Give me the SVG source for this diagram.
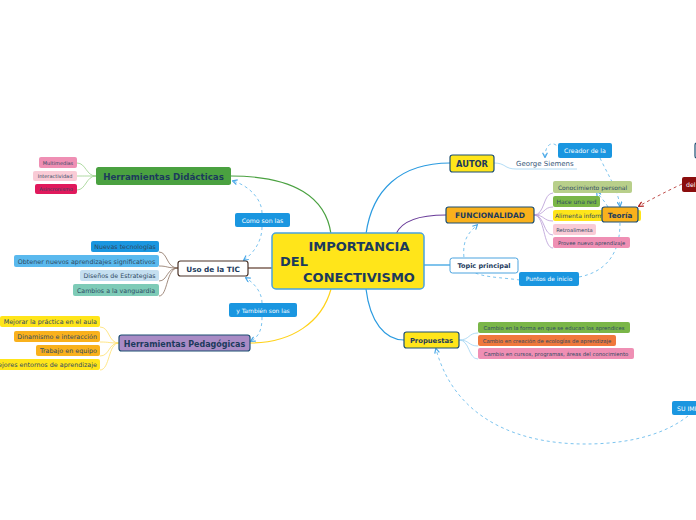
<svg xmlns="http://www.w3.org/2000/svg" width="696" height="520" viewBox="0 0 696 520">
<style>
text{font-family:"DejaVu Sans","Verdana",sans-serif}
.mt{font-weight:bold;fill:#1c3a5c;text-anchor:middle}
.lt{fill:#2f4a63;text-anchor:middle}
.wt{fill:#ffffff;text-anchor:middle}
.dash{fill:none;stroke:#7cc4ef;stroke-width:1;stroke-dasharray:3,3}
.c{fill:none;stroke-width:1.2}
.leaf{fill:none;stroke-width:0.8}
</style>
<defs>
<marker id="ab" viewBox="0 0 10 10" refX="8" refY="5" markerWidth="6" markerHeight="6" orient="auto"><path d="M1,1 L9,5 L1,9" fill="none" stroke="#4aa8e8" stroke-width="2"/></marker>
<marker id="ar" viewBox="0 0 10 10" refX="8" refY="5" markerWidth="6" markerHeight="6" orient="auto"><path d="M1,1 L9,5 L1,9" fill="none" stroke="#b02020" stroke-width="2"/></marker>
<clipPath id="clipAlimenta"><rect x="553" y="205" width="49" height="20"/></clipPath>
</defs>
<rect width="696" height="520" fill="#ffffff"/>

<g id="connectors">
<path class="c" stroke="#4aa140" d="M331,234 C326,198 295,176 231,176"/>
<path class="c" stroke="#2b9be0" d="M366,234 C372,190 400,163 450,163"/>
<path class="c" stroke="#6a3d9a" d="M396,234 C402,220 420,215 446,215"/>
<path class="c" stroke="#2b9be0" d="M424,265 L450,265"/>
<path class="c" stroke="#2b9be0" d="M366,289 C370,322 385,340 404,340"/>
<path class="c" stroke="#ffd21a" d="M331,289 C322,322 292,343 250,343"/>
<path class="c" stroke="#5d3a2a" stroke-width="1.8" d="M272,268 L248,268"/>
<path class="leaf" stroke="#9bd08a" d="M96,176 C86,176 86,163 77,163"/>
<path class="leaf" stroke="#9bd08a" d="M96,176 C86,176 86,176 77,176"/>
<path class="leaf" stroke="#9bd08a" d="M96,176 C86,176 86,190 77,190"/>
<path class="leaf" stroke="#8a7060" d="M178,268 C166,268 168,252 159,252"/>
<path class="leaf" stroke="#8a7060" d="M178,268 C166,268 168,266 159,266"/>
<path class="leaf" stroke="#8a7060" d="M178,268 C166,268 168,281 159,281"/>
<path class="leaf" stroke="#8a7060" d="M178,268 C166,268 168,296 159,296"/>
<path class="leaf" stroke="#ffe06a" d="M119,343 C108,343 110,327 100,327"/>
<path class="leaf" stroke="#ffe06a" d="M119,343 C108,343 110,342 100,342"/>
<path class="leaf" stroke="#ffe06a" d="M119,343 C108,343 110,356 100,356"/>
<path class="leaf" stroke="#ffe06a" d="M119,343 C108,343 110,370 100,370"/>
<path class="leaf" stroke="#9fd3f2" d="M494,163 C506,163 504,169 516,169 L577,169"/>
<path class="leaf" stroke="#b79ad6" d="M534,215 C545,215 543,193 553,193"/>
<path class="leaf" stroke="#b79ad6" d="M534,215 C545,215 543,207 553,207"/>
<path class="leaf" stroke="#b79ad6" d="M534,215 C545,215 543,221 553,221"/>
<path class="leaf" stroke="#b79ad6" d="M534,215 C545,215 543,235 553,235"/>
<path class="leaf" stroke="#b79ad6" d="M534,215 C545,215 543,248 553,248"/>
<path class="leaf" stroke="#9fd3f2" d="M459,340 C470,340 468,333 478,333"/>
<path class="leaf" stroke="#9fd3f2" d="M459,340 C470,340 468,346 478,346"/>
<path class="leaf" stroke="#9fd3f2" d="M459,340 C470,340 468,359 478,359"/>
<path class="dash" d="M262,213 C262,200 250,186 233,181" marker-end="url(#ab)"/>
<path class="dash" d="M262,227 C262,240 255,252 244,260" marker-end="url(#ab)"/>
<path class="dash" d="M262,303 C262,292 254,283 246,278" marker-end="url(#ab)"/>
<path class="dash" d="M262,317 C262,328 260,336 251,341" marker-end="url(#ab)"/>
<path class="dash" d="M560,150 C555,140 545,142 545,157" marker-end="url(#ab)"/>
<path class="dash" d="M600,158 C608,175 618,190 620,206" marker-end="url(#ab)"/>
<path class="dash" d="M608,207 C604,200 600,197 597,192" marker-end="url(#ab)"/>
<path class="dash" d="M682,184 C665,192 652,199 639,206" style="stroke:#c0504d" marker-end="url(#ar)"/>
<path class="dash" d="M520,280 C490,276 466,278 464,258 C462,238 470,232 477,225" marker-end="url(#ab)"/>
<path class="dash" d="M579,277 C605,272 620,255 620,223"/>
<path class="dash" d="M688,416 C660,438 620,444 585,444 C520,444 455,420 436,349" marker-end="url(#ab)"/>
</g>

<g id="central">
<rect x="272" y="233" width="152" height="56" rx="4" fill="#ffe51a" stroke="#4aa3df" stroke-width="1.5"/>
<text x="359" y="251" font-size="13" font-weight="bold" fill="#1c3a5c" text-anchor="middle">IMPORTANCIA</text>
<text x="280" y="266" font-size="13" font-weight="bold" fill="#1c3a5c">DEL</text>
<text x="359" y="282" font-size="13" font-weight="bold" fill="#1c3a5c" text-anchor="middle">CONECTIVISMO</text>
</g>

<g id="herramientas-didacticas">
<rect x="96" y="167" width="135" height="18" rx="2.5" fill="#4aa140"/>
<text class="mt" x="163.5" y="179.5" font-size="8.7">Herramientas Didácticas</text>
</g>
<g id="multimedias"><rect x="39" y="157" width="38" height="11" rx="2" fill="#ef8fb4"/><text class="lt" x="58" y="164.8" font-size="5">Multimedias</text></g>
<g id="interactividad"><rect x="33" y="171" width="44" height="10" rx="2" fill="#f9cbd6"/><text class="lt" x="55" y="178.2" font-size="5">Interactividad</text></g>
<g id="asincronismo"><rect x="35" y="184" width="42" height="10" rx="2" fill="#e0195c"/><text class="lt" x="56" y="191.2" font-size="5">Asincronismo</text></g>

<g id="uso-tic">
<rect x="178" y="261" width="70" height="15" rx="2.5" fill="#ffffff" stroke="#4a3328" stroke-width="1.2"/>
<text class="mt" x="213" y="271.5" font-size="7.3">Uso de la TIC</text>
</g>
<g id="nuevas"><rect x="91" y="241" width="68" height="11" rx="2" fill="#1a96e0"/><text class="lt" x="125" y="249" font-size="6.3">Nuevas tecnologías</text></g>
<g id="obtener"><rect x="14" y="255" width="145" height="12" rx="2" fill="#5ab9ee"/><text class="lt" x="86.5" y="263.5" font-size="6.4">Obtener nuevos aprendizajes significativos</text></g>
<g id="disenos"><rect x="80" y="270" width="79" height="11" rx="2" fill="#c5dff0"/><text class="lt" x="119.5" y="278" font-size="6.3">Diseños de Estrategias</text></g>
<g id="cambios"><rect x="73" y="284" width="86" height="12" rx="2" fill="#7ecbb7"/><text class="lt" x="116" y="292.5" font-size="6.3">Cambios a la vanguardia</text></g>

<g id="herramientas-pedagogicas">
<rect x="119" y="335" width="131" height="16" rx="2.5" fill="#a98bc5" stroke="#1d4f73" stroke-width="1.2"/>
<text class="mt" x="184.5" y="346.5" font-size="8">Herramientas Pedagógicas</text>
</g>
<g id="mejorar"><rect x="0" y="316" width="100" height="11" rx="2" fill="#ffe51a"/><text x="97" y="324" font-size="6.4" fill="#2f4a63" text-anchor="end">Mejorar la práctica en el aula</text></g>
<g id="dinamismo"><rect x="14" y="331" width="86" height="11" rx="2" fill="#f9b11c"/><text x="97" y="339" font-size="6.4" fill="#2f4a63" text-anchor="end">Dinamismo e interacción</text></g>
<g id="trabajo"><rect x="36" y="345" width="64" height="11" rx="2" fill="#f9b11c"/><text x="97" y="353" font-size="6.4" fill="#2f4a63" text-anchor="end">Trabajo en equipo</text></g>
<g id="mejores"><rect x="-10" y="359" width="110" height="11" rx="2" fill="#ffe51a"/><text x="97" y="367" font-size="6.4" fill="#2f4a63" text-anchor="end">Mejores entornos de aprendizaje</text></g>

<g id="como-son"><rect x="235" y="213" width="55" height="14" rx="2" fill="#1a96e0"/><text class="wt" x="262.5" y="222.5" font-size="6.2">Como son las</text></g>
<g id="tambien"><rect x="229" y="303" width="68" height="14" rx="2" fill="#1a96e0"/><text class="wt" x="263" y="312.5" font-size="6">y También son las</text></g>

<g id="autor">
<rect x="450" y="155" width="44" height="17" rx="2.5" fill="#ffe51a" stroke="#1d4f73" stroke-width="1.2"/>
<text class="mt" x="472" y="166.8" font-size="8.3">AUTOR</text>
</g>
<g id="george"><text x="516" y="166" font-size="7" fill="#3b5a7a">George Siemens</text></g>
<g id="creador"><rect x="558" y="143" width="54" height="15" rx="2" fill="#1a96e0"/><text class="wt" x="585" y="152.8" font-size="6.2">Creador de la</text></g>

<g id="funcionalidad">
<rect x="446" y="207" width="88" height="16" rx="2.5" fill="#f9b11c" stroke="#1d4f73" stroke-width="1.2"/>
<text class="mt" x="490" y="218.3" font-size="7.5">FUNCIONALIDAD</text>
</g>
<g id="conocimiento"><rect x="553" y="181" width="79" height="12" rx="2" fill="#b8cf8a"/><text class="lt" x="592.5" y="189.5" font-size="6">Conocimiento personal</text></g>
<g id="hace-red"><rect x="553" y="196" width="47" height="11" rx="2" fill="#7ab648"/><text class="lt" x="576.5" y="204" font-size="6">Hace una red</text></g>
<g id="alimenta"><rect x="553" y="210" width="88" height="11" rx="2" fill="#ffe51a"/><text x="555" y="218" font-size="6" fill="#2f4a63" clip-path="url(#clipAlimenta)">Alimenta información</text></g>
<g id="retroalimenta"><rect x="553" y="224" width="43" height="11" rx="2" fill="#f9cbd6"/><text class="lt" x="574.5" y="231.6" font-size="5.2">Retroalimenta</text></g>
<g id="provee"><rect x="553" y="237" width="77" height="11" rx="2" fill="#ef8fb4"/><text class="lt" x="591.5" y="244.6" font-size="5.2">Provee nuevo aprendizaje</text></g>

<g id="teoria">
<rect x="602" y="207" width="36" height="15" rx="2.5" fill="#f9b11c" stroke="#1d4f73" stroke-width="1.2"/>
<text class="mt" x="620" y="217.5" font-size="7.2">Teoría</text>
</g>
<g id="del"><rect x="682" y="177" width="30" height="15" rx="2" fill="#8b0d0d"/><text x="686" y="186.8" font-size="6.2" fill="#ffffff">del</text></g>
<g id="edge-node"><rect x="695" y="143" width="30" height="15" rx="2" fill="#ffffff" stroke="#1d4f73" stroke-width="1.2"/></g>

<g id="topic">
<rect x="450" y="258" width="68" height="15" rx="2.5" fill="#ffffff" stroke="#4aa3df" stroke-width="1"/>
<text class="mt" x="484" y="268.3" font-size="6.5">Topic principal</text>
</g>
<g id="puntos"><rect x="519" y="272" width="60" height="14" rx="2" fill="#1a96e0"/><text class="wt" x="549" y="281.3" font-size="5.9">Puntos de inicio</text></g>

<g id="propuestas">
<rect x="404" y="332" width="55" height="16" rx="2.5" fill="#ffe51a" stroke="#1d4f73" stroke-width="1.2"/>
<text class="mt" x="431.5" y="343.3" font-size="6.8">Propuestas</text>
</g>
<g id="cambio-forma"><rect x="478" y="322" width="152" height="11" rx="2" fill="#7ab648"/><text class="lt" x="554" y="329.5" font-size="5.3">Cambio en la forma en que se educan los aprendices</text></g>
<g id="cambio-ecologias"><rect x="478" y="335" width="138" height="11" rx="2" fill="#f0783c"/><text class="lt" x="547" y="342.5" font-size="5.3">Cambio en creación de ecologías de aprendizaje</text></g>
<g id="cambio-cursos"><rect x="478" y="348" width="156" height="11" rx="2" fill="#ef8fb4"/><text class="lt" x="556" y="355.5" font-size="5.3">Cambio en cursos, programas, áreas del conocimiento</text></g>

<g id="su-im"><rect x="672" y="401" width="40" height="14" rx="2" fill="#1a96e0"/><text x="677" y="410.5" font-size="6.2" fill="#ffffff">SU IMPORTANCIA</text></g>
</svg>
